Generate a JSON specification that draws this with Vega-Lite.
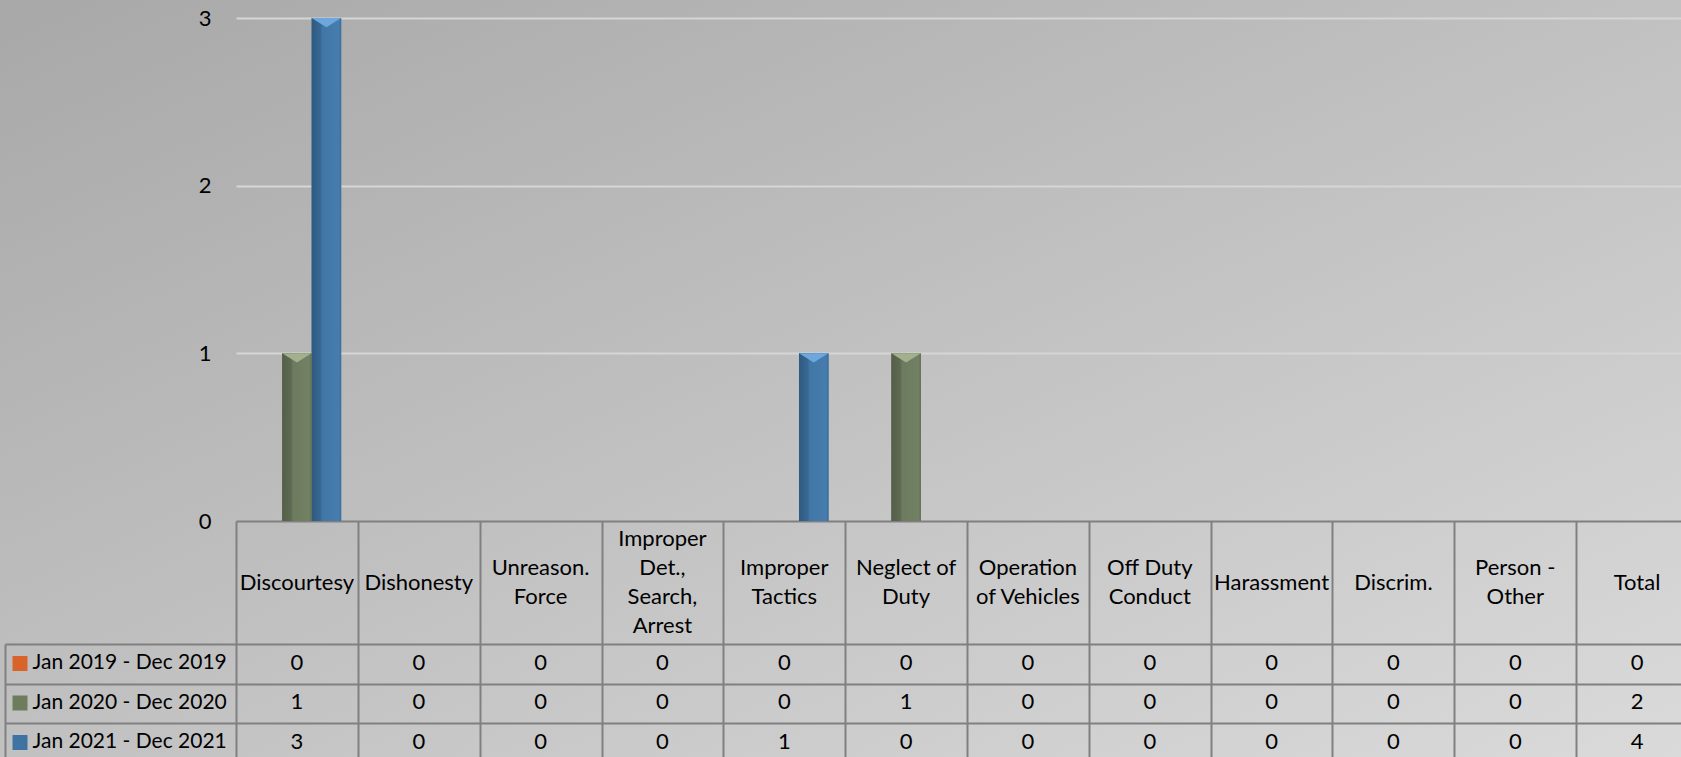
{
  "$schema": "https://vega.github.io/schema/vega-lite/v6.json",
  "autosize": {"type": "none"},
  "width": 1681,
  "height": 757,
  "padding": 0,
  "background": "#c0c0c0",
  "config": {"view": {"stroke": null, "fill": {"gradient": "linear", "x1": 0, "y1": 0, "x2": 1, "y2": 1, "stops": [{"offset": 0, "color": "#a8a8a8"}, {"offset": 1, "color": "#dadada"}]}}, "font": "Lato"},
  "datasets": {
    "counts": [
      {"category": "Discourtesy", "series": "Jan 2019 - Dec 2019", "value": 0},
      {"category": "Dishonesty", "series": "Jan 2019 - Dec 2019", "value": 0},
      {"category": "Unreason. Force", "series": "Jan 2019 - Dec 2019", "value": 0},
      {"category": "Improper Det., Search, Arrest", "series": "Jan 2019 - Dec 2019", "value": 0},
      {"category": "Improper Tactics", "series": "Jan 2019 - Dec 2019", "value": 0},
      {"category": "Neglect of Duty", "series": "Jan 2019 - Dec 2019", "value": 0},
      {"category": "Operation of Vehicles", "series": "Jan 2019 - Dec 2019", "value": 0},
      {"category": "Off Duty Conduct", "series": "Jan 2019 - Dec 2019", "value": 0},
      {"category": "Harassment", "series": "Jan 2019 - Dec 2019", "value": 0},
      {"category": "Discrim.", "series": "Jan 2019 - Dec 2019", "value": 0},
      {"category": "Person - Other", "series": "Jan 2019 - Dec 2019", "value": 0},
      {"category": "Total", "series": "Jan 2019 - Dec 2019", "value": 0},
      {"category": "Discourtesy", "series": "Jan 2020 - Dec 2020", "value": 1},
      {"category": "Dishonesty", "series": "Jan 2020 - Dec 2020", "value": 0},
      {"category": "Unreason. Force", "series": "Jan 2020 - Dec 2020", "value": 0},
      {"category": "Improper Det., Search, Arrest", "series": "Jan 2020 - Dec 2020", "value": 0},
      {"category": "Improper Tactics", "series": "Jan 2020 - Dec 2020", "value": 0},
      {"category": "Neglect of Duty", "series": "Jan 2020 - Dec 2020", "value": 1},
      {"category": "Operation of Vehicles", "series": "Jan 2020 - Dec 2020", "value": 0},
      {"category": "Off Duty Conduct", "series": "Jan 2020 - Dec 2020", "value": 0},
      {"category": "Harassment", "series": "Jan 2020 - Dec 2020", "value": 0},
      {"category": "Discrim.", "series": "Jan 2020 - Dec 2020", "value": 0},
      {"category": "Person - Other", "series": "Jan 2020 - Dec 2020", "value": 0},
      {"category": "Total", "series": "Jan 2020 - Dec 2020", "value": 2},
      {"category": "Discourtesy", "series": "Jan 2021 - Dec 2021", "value": 3},
      {"category": "Dishonesty", "series": "Jan 2021 - Dec 2021", "value": 0},
      {"category": "Unreason. Force", "series": "Jan 2021 - Dec 2021", "value": 0},
      {"category": "Improper Det., Search, Arrest", "series": "Jan 2021 - Dec 2021", "value": 0},
      {"category": "Improper Tactics", "series": "Jan 2021 - Dec 2021", "value": 1},
      {"category": "Neglect of Duty", "series": "Jan 2021 - Dec 2021", "value": 0},
      {"category": "Operation of Vehicles", "series": "Jan 2021 - Dec 2021", "value": 0},
      {"category": "Off Duty Conduct", "series": "Jan 2021 - Dec 2021", "value": 0},
      {"category": "Harassment", "series": "Jan 2021 - Dec 2021", "value": 0},
      {"category": "Discrim.", "series": "Jan 2021 - Dec 2021", "value": 0},
      {"category": "Person - Other", "series": "Jan 2021 - Dec 2021", "value": 0},
      {"category": "Total", "series": "Jan 2021 - Dec 2021", "value": 4}
    ],
    "categories": [
      {"category": "Discourtesy", "label": "Discourtesy"},
      {"category": "Dishonesty", "label": "Dishonesty"},
      {"category": "Unreason. Force", "label": "Unreason.|Force"},
      {"category": "Improper Det., Search, Arrest", "label": "Improper|Det.,|Search,|Arrest"},
      {"category": "Improper Tactics", "label": "Improper|Tactics"},
      {"category": "Neglect of Duty", "label": "Neglect of|Duty"},
      {"category": "Operation of Vehicles", "label": "Operation|of Vehicles"},
      {"category": "Off Duty Conduct", "label": "Off Duty|Conduct"},
      {"category": "Harassment", "label": "Harassment"},
      {"category": "Discrim.", "label": "Discrim."},
      {"category": "Person - Other", "label": "Person -|Other"},
      {"category": "Total", "label": "Total"}
    ]
  },
  "resolve": {"scale": {"y": "independent"}, "axis": {"y": "independent"}},
  "layer": [
    {
      "data": {"name": "counts"},
      "transform": [{"filter": "datum.category !== 'Total'"}],
      "mark": {"type": "bar"},
      "encoding": {
        "x": {"field": "category", "type": "nominal",
          "scale": {"domain": ["Discourtesy", "Dishonesty", "Unreason. Force", "Improper Det., Search, Arrest", "Improper Tactics", "Neglect of Duty", "Operation of Vehicles", "Off Duty Conduct", "Harassment", "Discrim.", "Person - Other", "Total"], "range": [236, 1698], "paddingInner": 0, "paddingOuter": 0},
          "axis": {"orient": "bottom", "labels": false, "domain": false, "ticks": true, "tickBand": "extent", "tickSize": -236, "tickColor": "#808080", "tickWidth": 2, "grid": false, "title": null}},
        "xOffset": {"field": "series", "type": "nominal",
          "scale": {"domain": ["Jan 2019 - Dec 2019", "Jan 2020 - Dec 2020", "Jan 2021 - Dec 2021"], "paddingInner": 0, "paddingOuter": 0.565}},
        "y": {"field": "value", "type": "quantitative",
          "scale": {"domain": [0, 3], "range": [521, 18], "nice": false},
          "axis": {"values": [0, 1, 2, 3], "grid": true,
            "gridColor": {"condition": {"test": "datum.value === 0", "value": "#808080"}, "value": "#d6d6d6"},
            "gridWidth": 2, "domain": false, "ticks": false, "labelPadding": -211, "labelAlign": "right", "labelFontSize": 22, "labelFont": "Lato", "labelColor": "#000000", "title": null}},
        "color": {"field": "series", "type": "nominal",
          "scale": {"domain": ["Jan 2019 - Dec 2019", "Jan 2020 - Dec 2020", "Jan 2021 - Dec 2021"], "range": ["#d9642b", "#6e7c5e", "#3f74a2"]},
          "legend": {"orient": "none", "direction": "vertical", "legendX": 12.5, "legendY": 656, "title": null, "symbolType": "square", "symbolSize": 225, "symbolStrokeWidth": 0, "symbolOpacity": 1, "labelExpr": "''", "labelFontSize": 8, "rowPadding": 24.5, "padding": 0}}
      }
    },
    {
      "data": {"name": "counts"},
      "transform": [{"filter": "datum.category !== 'Total' && datum.series === 'Jan 2021 - Dec 2021' && datum.value > 0"}],
      "mark": {"type": "bar", "color": {"gradient": "linear", "x1": 0, "y1": 0, "x2": 1, "y2": 0, "stops": [{"offset": 0, "color": "#2f5a80"}, {"offset": 0.3, "color": "#386892"}, {"offset": 0.36, "color": "#4177a6"}, {"offset": 0.92, "color": "#467dae"}, {"offset": 1, "color": "#3b6c98"}]}},
      "encoding": {
        "x": {"field": "category", "type": "nominal",
          "scale": {"domain": ["Discourtesy", "Dishonesty", "Unreason. Force", "Improper Det., Search, Arrest", "Improper Tactics", "Neglect of Duty", "Operation of Vehicles", "Off Duty Conduct", "Harassment", "Discrim.", "Person - Other", "Total"], "range": [236, 1698], "paddingInner": 0, "paddingOuter": 0},
          "axis": {"orient": "bottom", "labels": false, "domain": false, "ticks": true, "tickBand": "extent", "tickSize": -236, "tickColor": "#808080", "tickWidth": 2, "grid": false, "title": null}},
        "xOffset": {"field": "series", "type": "nominal",
          "scale": {"domain": ["Jan 2019 - Dec 2019", "Jan 2020 - Dec 2020", "Jan 2021 - Dec 2021"], "paddingInner": 0, "paddingOuter": 0.565}},
        "y": {"field": "value", "type": "quantitative", "scale": {"domain": [0, 3], "range": [521, 18], "nice": false}, "axis": null}
      }
    },
    {
      "data": {"name": "counts"},
      "transform": [{"filter": "datum.category !== 'Total' && datum.series === 'Jan 2020 - Dec 2020' && datum.value > 0"}],
      "mark": {"type": "bar", "color": {"gradient": "linear", "x1": 0, "y1": 0, "x2": 1, "y2": 0, "stops": [{"offset": 0, "color": "#545e49"}, {"offset": 0.3, "color": "#5e6952"}, {"offset": 0.36, "color": "#6c7a5d"}, {"offset": 0.92, "color": "#728064"}, {"offset": 1, "color": "#626e55"}]}},
      "encoding": {
        "x": {"field": "category", "type": "nominal",
          "scale": {"domain": ["Discourtesy", "Dishonesty", "Unreason. Force", "Improper Det., Search, Arrest", "Improper Tactics", "Neglect of Duty", "Operation of Vehicles", "Off Duty Conduct", "Harassment", "Discrim.", "Person - Other", "Total"], "range": [236, 1698], "paddingInner": 0, "paddingOuter": 0},
          "axis": {"orient": "bottom", "labels": false, "domain": false, "ticks": true, "tickBand": "extent", "tickSize": -236, "tickColor": "#808080", "tickWidth": 2, "grid": false, "title": null}},
        "xOffset": {"field": "series", "type": "nominal",
          "scale": {"domain": ["Jan 2019 - Dec 2019", "Jan 2020 - Dec 2020", "Jan 2021 - Dec 2021"], "paddingInner": 0, "paddingOuter": 0.565}},
        "y": {"field": "value", "type": "quantitative", "scale": {"domain": [0, 3], "range": [521, 18], "nice": false}, "axis": null}
      }
    },
    {
      "data": {"name": "counts"},
      "transform": [{"filter": "datum.category !== 'Total' && datum.series === 'Jan 2021 - Dec 2021' && datum.value > 0"}],
      "mark": {"type": "point", "shape": "M-1,0L1,0L0,0.62Z", "filled": true, "size": 870, "opacity": 1, "color": "#6ea7dc", "strokeWidth": 0},
      "encoding": {
        "x": {"field": "category", "type": "nominal",
          "scale": {"domain": ["Discourtesy", "Dishonesty", "Unreason. Force", "Improper Det., Search, Arrest", "Improper Tactics", "Neglect of Duty", "Operation of Vehicles", "Off Duty Conduct", "Harassment", "Discrim.", "Person - Other", "Total"], "range": [236, 1698], "paddingInner": 0, "paddingOuter": 0},
          "axis": {"orient": "bottom", "labels": false, "domain": false, "ticks": true, "tickBand": "extent", "tickSize": -236, "tickColor": "#808080", "tickWidth": 2, "grid": false, "title": null}},
        "xOffset": {"field": "series", "type": "nominal",
          "scale": {"domain": ["Jan 2019 - Dec 2019", "Jan 2020 - Dec 2020", "Jan 2021 - Dec 2021"], "paddingInner": 0, "paddingOuter": 0.565}},
        "y": {"field": "value", "type": "quantitative", "scale": {"domain": [0, 3], "range": [521, 18], "nice": false}, "axis": null}
      }
    },
    {
      "data": {"name": "counts"},
      "transform": [{"filter": "datum.category !== 'Total' && datum.series === 'Jan 2020 - Dec 2020' && datum.value > 0"}],
      "mark": {"type": "point", "shape": "M-1,0L1,0L0,0.62Z", "filled": true, "size": 870, "opacity": 1, "color": "#a3b08f", "strokeWidth": 0},
      "encoding": {
        "x": {"field": "category", "type": "nominal",
          "scale": {"domain": ["Discourtesy", "Dishonesty", "Unreason. Force", "Improper Det., Search, Arrest", "Improper Tactics", "Neglect of Duty", "Operation of Vehicles", "Off Duty Conduct", "Harassment", "Discrim.", "Person - Other", "Total"], "range": [236, 1698], "paddingInner": 0, "paddingOuter": 0},
          "axis": {"orient": "bottom", "labels": false, "domain": false, "ticks": true, "tickBand": "extent", "tickSize": -236, "tickColor": "#808080", "tickWidth": 2, "grid": false, "title": null}},
        "xOffset": {"field": "series", "type": "nominal",
          "scale": {"domain": ["Jan 2019 - Dec 2019", "Jan 2020 - Dec 2020", "Jan 2021 - Dec 2021"], "paddingInner": 0, "paddingOuter": 0.565}},
        "y": {"field": "value", "type": "quantitative", "scale": {"domain": [0, 3], "range": [521, 18], "nice": false}, "axis": null}
      }
    },
    {
      "data": {"name": "categories"},
      "transform": [{"filter": "length(split(datum.label, '|')) == 1"}],
      "mark": {"type": "text", "fontSize": 22, "font": "Lato", "lineBreak": "|", "lineHeight": 29, "align": "center", "baseline": "middle", "color": "#000000"},
      "encoding": {
        "x": {"field": "category", "type": "nominal",
          "scale": {"domain": ["Discourtesy", "Dishonesty", "Unreason. Force", "Improper Det., Search, Arrest", "Improper Tactics", "Neglect of Duty", "Operation of Vehicles", "Off Duty Conduct", "Harassment", "Discrim.", "Person - Other", "Total"], "range": [236, 1698], "paddingInner": 0, "paddingOuter": 0},
          "axis": {"orient": "bottom", "labels": false, "domain": false, "ticks": true, "tickBand": "extent", "tickSize": -236, "tickColor": "#808080", "tickWidth": 2, "grid": false, "title": null}},
        "y": {"datum": "header", "type": "nominal",
          "scale": {"type": "band", "domain": ["header"], "range": [521, 644], "paddingInner": 0, "paddingOuter": 0},
          "axis": null},
        "text": {"field": "label"}
      }
    },
    {
      "data": {"name": "categories"},
      "transform": [{"filter": "length(split(datum.label, '|')) == 2"}],
      "mark": {"type": "text", "fontSize": 22, "font": "Lato", "lineBreak": "|", "lineHeight": 29, "align": "center", "baseline": "middle", "dy": -14.5, "color": "#000000"},
      "encoding": {
        "x": {"field": "category", "type": "nominal",
          "scale": {"domain": ["Discourtesy", "Dishonesty", "Unreason. Force", "Improper Det., Search, Arrest", "Improper Tactics", "Neglect of Duty", "Operation of Vehicles", "Off Duty Conduct", "Harassment", "Discrim.", "Person - Other", "Total"], "range": [236, 1698], "paddingInner": 0, "paddingOuter": 0},
          "axis": {"orient": "bottom", "labels": false, "domain": false, "ticks": true, "tickBand": "extent", "tickSize": -236, "tickColor": "#808080", "tickWidth": 2, "grid": false, "title": null}},
        "y": {"datum": "header", "type": "nominal",
          "scale": {"type": "band", "domain": ["header"], "range": [521, 644], "paddingInner": 0, "paddingOuter": 0},
          "axis": null},
        "text": {"field": "label"}
      }
    },
    {
      "data": {"name": "categories"},
      "transform": [{"filter": "length(split(datum.label, '|')) == 4"}],
      "mark": {"type": "text", "fontSize": 22, "font": "Lato", "lineBreak": "|", "lineHeight": 29, "align": "center", "baseline": "middle", "dy": -43.5, "color": "#000000"},
      "encoding": {
        "x": {"field": "category", "type": "nominal",
          "scale": {"domain": ["Discourtesy", "Dishonesty", "Unreason. Force", "Improper Det., Search, Arrest", "Improper Tactics", "Neglect of Duty", "Operation of Vehicles", "Off Duty Conduct", "Harassment", "Discrim.", "Person - Other", "Total"], "range": [236, 1698], "paddingInner": 0, "paddingOuter": 0},
          "axis": {"orient": "bottom", "labels": false, "domain": false, "ticks": true, "tickBand": "extent", "tickSize": -236, "tickColor": "#808080", "tickWidth": 2, "grid": false, "title": null}},
        "y": {"datum": "header", "type": "nominal",
          "scale": {"type": "band", "domain": ["header"], "range": [521, 644], "paddingInner": 0, "paddingOuter": 0},
          "axis": null},
        "text": {"field": "label"}
      }
    },
    {
      "data": {"name": "counts"},
      "mark": {"type": "text", "fontSize": 22, "font": "Lato", "align": "center", "baseline": "middle", "dy": -1, "color": "#000000"},
      "encoding": {
        "x": {"field": "category", "type": "nominal",
          "scale": {"domain": ["Discourtesy", "Dishonesty", "Unreason. Force", "Improper Det., Search, Arrest", "Improper Tactics", "Neglect of Duty", "Operation of Vehicles", "Off Duty Conduct", "Harassment", "Discrim.", "Person - Other", "Total"], "range": [236, 1698], "paddingInner": 0, "paddingOuter": 0},
          "axis": {"orient": "bottom", "labels": false, "domain": false, "ticks": true, "tickBand": "extent", "tickSize": -236, "tickColor": "#808080", "tickWidth": 2, "grid": false, "title": null}},
        "y": {"field": "series", "type": "nominal",
          "scale": {"type": "band", "domain": ["Jan 2019 - Dec 2019", "Jan 2020 - Dec 2020", "Jan 2021 - Dec 2021"], "range": [644, 762.5], "paddingInner": 0, "paddingOuter": 0},
          "axis": {"orient": "left", "offset": -5, "domain": true, "domainColor": "#808080", "domainWidth": 2, "ticks": true, "tickBand": "extent", "tickSize": -231, "tickColor": "#808080", "tickWidth": 2, "grid": true, "gridColor": "#808080", "gridWidth": 2, "gridOpacity": 1, "labels": true, "labelAlign": "left", "labelPadding": 204, "labelFontSize": 21, "labelFont": "Lato", "labelColor": "#000000", "labelBaseline": "middle", "labelOffset": -1, "labelLimit": 0, "title": null}},
        "text": {"field": "value", "type": "quantitative"}
      }
    }
  ]
}
